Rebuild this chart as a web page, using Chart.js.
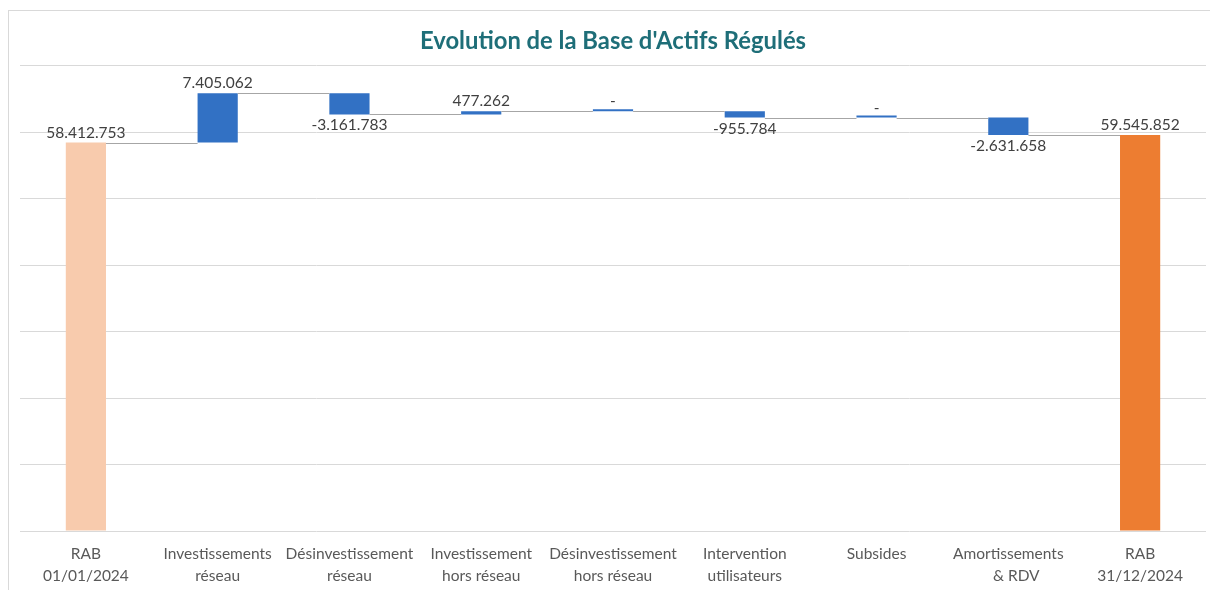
<!DOCTYPE html>
<html>
<head>
<meta charset="utf-8">
<script src="https://cdn.jsdelivr.net/npm/chart.js@4"></script>
<style>
  body { margin: 0; background: #fff; }
  #wrap { position: relative; width: 1210px; height: 590px; }
  #frame { position: absolute; left: 8px; top: 10px; width: 1300px; height: 700px; border: 1px solid #D9D9D9; }
  canvas { position: absolute; left: 0; top: 0; }
</style>
</head>
<body>
<div id="wrap">
  <div id="frame"></div>
  <canvas id="chart" width="1210" height="590"></canvas>
</div>
<script>
// categories (two-line axis labels)
const categories = [
  ['RAB', '01/01/2024'],
  ['Investissements', 'réseau'],
  ['Désinvestissement', 'réseau'],
  ['Investissement', 'hors réseau'],
  ['Désinvestissement', 'hors réseau'],
  ['Intervention', 'utilisateurs'],
  ['Subsides'],
  ['Amortissements', '    & RDV'],
  ['RAB', '31/12/2024']
];
const startValue = 58412753;
const changes = [7405062, -3161783, 477262, 0, -955784, 0, -2631658];
const endValue = 59545852;

const colStart = '#F8CBAD';
const colEnd = '#ED7D31';
const colDelta = '#3271C4';

// build floating bars from the running total
const bars = [[0, startValue]];
const totals = [startValue];
let run = startValue;
changes.forEach(c => {
  bars.push([run, run + c]);
  run += c;
  totals.push(run);
});
bars.push([0, endValue]);
totals.push(endValue);

const rawValues = [startValue, ...changes, endValue];
const colors = rawValues.map((v, i) => i === 0 ? colStart : (i === rawValues.length - 1 ? colEnd : colDelta));

function fmt(n) {
  if (n === 0) return '-';
  const s = Math.abs(n).toString().replace(/\B(?=(\d{3})+(?!\d))/g, '.');
  return (n < 0 ? '-' : '') + s;
}

const waterfallExtras = {
  id: 'waterfallExtras',
  afterDatasetsDraw(chart) {
    const ctx = chart.ctx;
    const meta = chart.getDatasetMeta(0);
    const y = chart.scales.y;
    ctx.save();
    // connectors
    ctx.strokeStyle = '#A6A6A6';
    ctx.lineWidth = 1;
    for (let i = 0; i < meta.data.length - 1; i++) {
      const a = meta.data[i], b = meta.data[i + 1];
      const py = Math.round(y.getPixelForValue(totals[i])) + 0.5;
      ctx.beginPath();
      ctx.moveTo(a.x + a.width / 2, py);
      ctx.lineTo(b.x - b.width / 2, py);
      ctx.stroke();
    }
    // value labels
    ctx.font = '15.5px Lato';
    ctx.fillStyle = '#404040';
    ctx.textAlign = 'center';
    ctx.textBaseline = 'middle';
    meta.data.forEach((el, i) => {
      const v = rawValues[i];
      const lo = Math.min(bars[i][0], bars[i][1]);
      const hi = Math.max(bars[i][0], bars[i][1]);
      let py;
      if (v < 0) py = y.getPixelForValue(lo) + 11;
      else py = y.getPixelForValue(hi) - 10;
      ctx.fillText(fmt(v), el.x, py);
    });
    ctx.restore();
  }
};

new Chart(document.getElementById('chart'), {
  type: 'bar',
  data: {
    labels: categories,
    datasets: [{
      data: bars,
      backgroundColor: colors,
      borderWidth: 0,
      minBarLength: 2,
      barPercentage: 1,
      categoryPercentage: 0.305
    }]
  },
  options: {
    responsive: false,
    animation: false,
    layout: { padding: { left: 20, right: 4, top: 0, bottom: 0 } },
    plugins: {
      legend: { display: false },
      tooltip: { enabled: false },
      title: {
        display: true,
        text: "Evolution de la Base d'Actifs Régulés",
        color: '#1E6E78',
        font: { family: 'Lato', size: 23.8, weight: 'bold' },
        padding: { top: 27, bottom: 10 }
      }
    },
    scales: {
      x: {
        grid: { display: false, drawTicks: false },
        border: { display: false },
        afterFit(scale) { scale.height = 59; },
        ticks: {
          color: '#595959',
          font: { family: 'Lato', size: 15.5, lineHeight: 1.42 },
          padding: 12,
          maxRotation: 0,
          autoSkip: false
        }
      },
      y: {
        min: 0,
        max: 70000000,
        grid: { color: '#D9D9D9', drawTicks: false },
        border: { display: false },
        ticks: { display: false, stepSize: 10000000 }
      }
    }
  },
  plugins: [waterfallExtras]
});
</script>
</body>
</html>
